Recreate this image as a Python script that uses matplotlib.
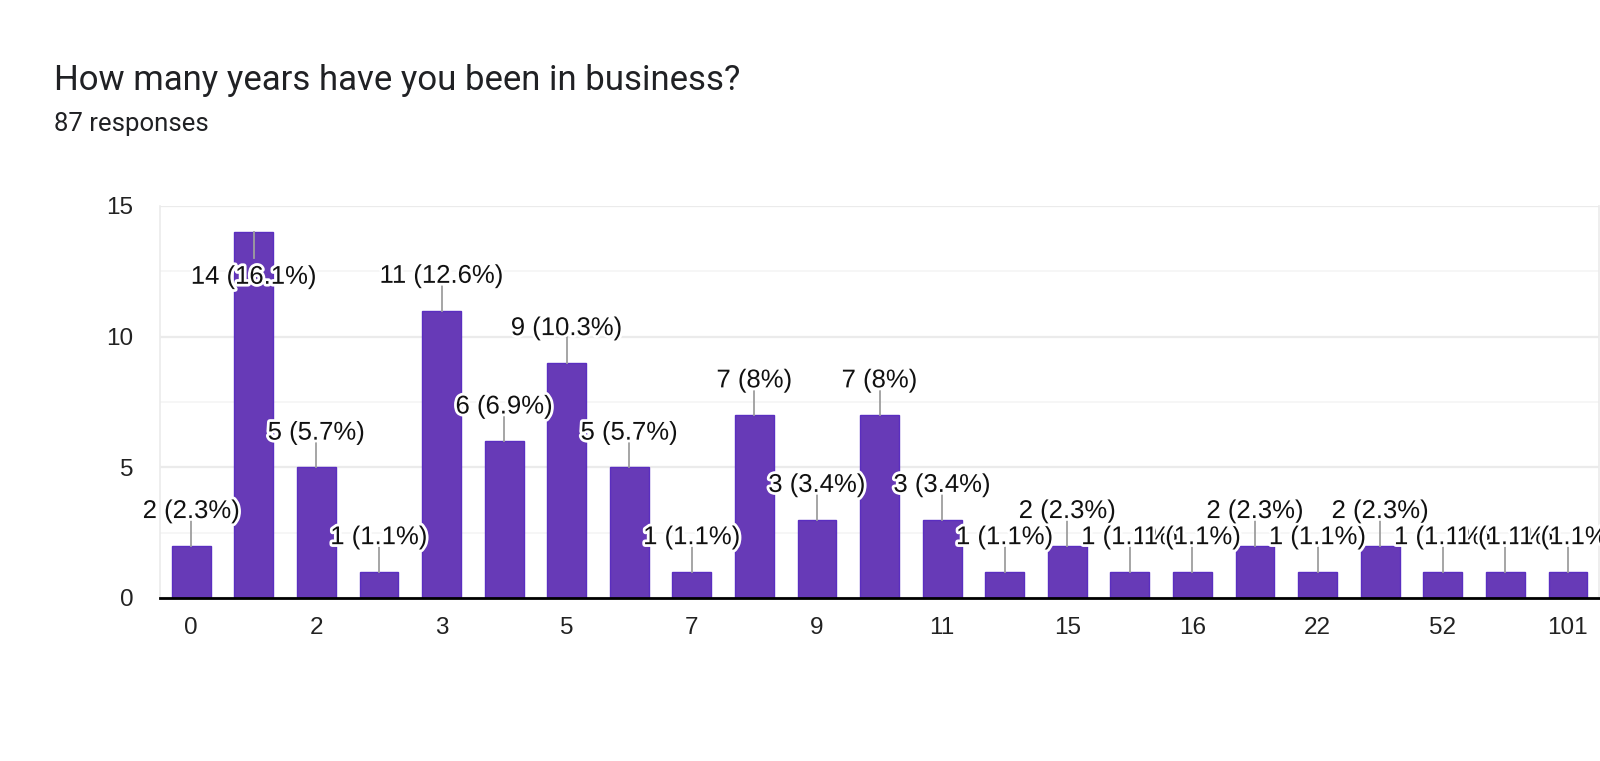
import matplotlib
matplotlib.use("Agg")
import matplotlib.pyplot as plt
import matplotlib.patheffects as pe
import numpy as np

title = "How many years have you been in business?"
subtitle = "87 responses"
categories = ["0", "1", "2", "2.5", "3", "4", "5", "6", "7", "8", "9", "10",
              "11", "12", "15", "15.5", "16", "20", "22", "25", "52", "100", "101"]
counts = [2, 14, 5, 1, 11, 6, 9, 5, 1, 7, 3, 7, 3, 1, 2, 1, 1, 2, 1, 2, 1, 1, 1]
total = 87
ymax = 15

bar_color = "#673ab7"
bar_edge = "#5a2ec0"
stem_color = "#9e9e9e"
text_color = "#202124"

fig = plt.figure(figsize=(16, 7.61), dpi=100)
ax = fig.add_axes([0.1, 1 - 598 / 761, 0.8995, (598 - 206) / 761])

x = np.arange(len(categories))
ax.bar(x, counts, width=0.62, color=bar_color, edgecolor=bar_edge, linewidth=1, zorder=2)

ax.set_xlim(-0.5, len(categories) - 0.5)
ax.set_ylim(0, ymax)

# grid
ax.set_yticks([0, 5, 10, 15])
ax.set_yticks([2.5, 7.5, 12.5], minor=True)
ax.grid(axis="y", which="major", color="#ebebeb", linewidth=1.6, zorder=0)
ax.grid(axis="y", which="minor", color="#f5f5f5", linewidth=1.2, zorder=0)
ax.tick_params(axis="y", which="both", length=0, pad=19, labelsize=17.5, labelcolor="#222222")
for lab in ax.get_yticklabels():
    lab.set_fontfamily("Liberation Sans")

ax.set_xticks(x[::2])
ax.set_xticklabels(categories[::2], fontfamily="Liberation Sans")
ax.tick_params(axis="x", length=0, pad=14, labelsize=17.5, labelcolor="#222222")

for side in ["left", "right", "top"]:
    ax.spines[side].set_color("#ebebeb")
    ax.spines[side].set_linewidth(1.2)
ax.spines["top"].set_visible(False)
ax.spines["bottom"].set_color("black")
ax.spines["bottom"].set_linewidth(2)
ax.spines["bottom"].set_zorder(5)

# annotations with stems
stem = 1.0
for i, v in enumerate(counts):
    label = f"{v} ({round(v / total * 100, 1):g}%)"
    if v + stem + 0.9 > ymax:
        y_end = v - stem
        ax.plot([i, i], [v, y_end], color=stem_color, linewidth=1.3, zorder=3)
        ty, va = y_end - 0.25, "top"
    else:
        y_end = v + stem
        ax.plot([i, i], [v, y_end], color=stem_color, linewidth=1.3, zorder=3)
        ty, va = y_end + 0.06, "baseline"
    ax.text(i, ty, label, ha="center", va=va, fontsize=18.5, color="#111111",
            fontfamily="Liberation Sans", zorder=10 + i,
            path_effects=[pe.withStroke(linewidth=4, foreground="white")])

fig.text(54 / 1600, 1 - 90 / 761, title, fontsize=25, color=text_color,
         fontfamily="Roboto", va="baseline", ha="left")
fig.text(54 / 1600, 1 - 131 / 761, subtitle, fontsize=18.5, color=text_color,
         fontfamily="Roboto", va="baseline", ha="left")

fig.savefig("out.png", dpi=100, facecolor="white")
